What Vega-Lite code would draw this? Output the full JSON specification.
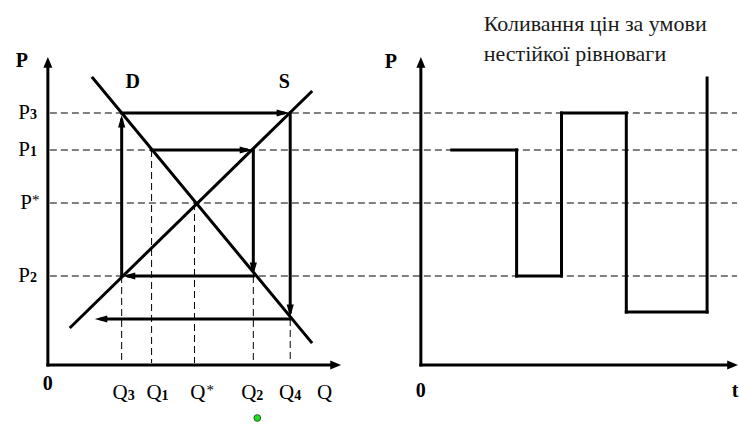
{
  "$schema": "https://vega.github.io/schema/vega-lite/v6.json",
  "width": 739,
  "height": 424,
  "autosize": {"type": "fit", "contains": "padding"},
  "padding": 0,
  "background": "white",
  "config": {"view": {"stroke": null}},
  "datasets": {
    "dashed": [
      {"x": 2, "y": 252, "x2": 691, "y2": 252},
      {"x": 2, "y": 215, "x2": 691, "y2": 215},
      {"x": 2, "y": 162, "x2": 691, "y2": 162},
      {"x": 2, "y": 89, "x2": 691, "y2": 89},
      {"x": 74, "y": 89, "x2": 74, "y2": 2},
      {"x": 104, "y": 215, "x2": 104, "y2": 2},
      {"x": 147, "y": 162, "x2": 147, "y2": 2},
      {"x": 206, "y": 89, "x2": 206, "y2": 2},
      {"x": 243, "y": 46, "x2": 243, "y2": 2}
    ],
    "solid": [
      {"x": 0, "y": 0, "x2": 0, "y2": 300},
      {"x": 0, "y": 0, "x2": 286, "y2": 0},
      {"x": 45, "y": 287, "x2": 264, "y2": 23},
      {"x": 23, "y": 38, "x2": 264, "y2": 273},
      {"x": 74, "y": 89, "x2": 74, "y2": 245},
      {"x": 74, "y": 252, "x2": 236, "y2": 252},
      {"x": 243, "y": 252, "x2": 243, "y2": 53},
      {"x": 243, "y": 46, "x2": 54, "y2": 46},
      {"x": 104, "y": 215, "x2": 199, "y2": 215},
      {"x": 206, "y": 215, "x2": 206, "y2": 96},
      {"x": 206, "y": 89, "x2": 81, "y2": 89},
      {"x": 374, "y": 0, "x2": 374, "y2": 300},
      {"x": 374, "y": 0, "x2": 684, "y2": 0},
      {"x": 405, "y": 215, "x2": 470, "y2": 215},
      {"x": 470, "y": 215, "x2": 470, "y2": 89},
      {"x": 470, "y": 89, "x2": 515, "y2": 89},
      {"x": 515, "y": 89, "x2": 515, "y2": 252},
      {"x": 515, "y": 252, "x2": 580, "y2": 252},
      {"x": 580, "y": 252, "x2": 580, "y2": 53},
      {"x": 580, "y": 53, "x2": 661, "y2": 53},
      {"x": 661, "y": 53, "x2": 661, "y2": 287}
    ],
    "heads": [
      {"x": 74, "y": 250, "dir": "up"},
      {"x": 242, "y": 252, "dir": "right"},
      {"x": 243, "y": 48, "dir": "down"},
      {"x": 47, "y": 46, "dir": "left"},
      {"x": 205, "y": 215, "dir": "right"},
      {"x": 206, "y": 90, "dir": "down"},
      {"x": 75, "y": 89, "dir": "left"},
      {"x": 0, "y": 308, "dir": "axis-up"},
      {"x": 294, "y": 0, "dir": "axis-right"},
      {"x": 374, "y": 308, "dir": "axis-up"},
      {"x": 692, "y": 0, "dir": "axis-right"}
    ],
    "boldText": [
      {"x": -26, "y": 304, "label": "P"},
      {"x": 85, "y": 283, "label": "D"},
      {"x": 237, "y": 283, "label": "S"},
      {"x": 0, "y": -19, "label": "0"},
      {"x": 344, "y": 303, "label": "P"},
      {"x": 374, "y": -26, "label": "0"},
      {"x": 689, "y": -26, "label": "t"}
    ],
    "pText": [
      {"x": -18, "y": 252, "main": "P", "sub": "3"},
      {"x": -18, "y": 215, "main": "P", "sub": "1"},
      {"x": -16, "y": 162, "main": "P", "sub": ""},
      {"x": -18, "y": 89, "main": "P", "sub": "2"}
    ],
    "pStar": [
      {"x": -16, "y": 165, "label": "*"}
    ],
    "qText": [
      {"x": 80, "y": -28, "main": "Q", "sub": "3"},
      {"x": 114, "y": -28, "main": "Q", "sub": "1"},
      {"x": 209, "y": -28, "main": "Q", "sub": "2"},
      {"x": 247, "y": -28, "main": "Q", "sub": "4"},
      {"x": 285, "y": -28, "main": "Q", "sub": ""},
      {"x": 158, "y": -28, "main": "Q", "sub": ""}
    ],
    "qStar": [
      {"x": 159, "y": -25, "label": "*"}
    ],
    "title": [
      {"x": 437, "y": 341, "label": "Коливання цін за умови"},
      {"x": 437, "y": 311, "label": "нестійкої рівноваги"}
    ],
    "dot": [
      {"x": 210, "y": -53}
    ]
  },
  "encoding": {
    "x": {"field": "x", "type": "quantitative", "scale": {"domain": [-48, 691], "nice": false, "zero": false}, "axis": null},
    "y": {"field": "y", "type": "quantitative", "scale": {"domain": [-59, 365], "nice": false, "zero": false}, "axis": null}
  },
  "layer": [
    {
      "data": {"name": "dashed"},
      "mark": {"type": "rule", "color": "black", "strokeWidth": 1, "strokeDash": [7, 4]},
      "encoding": {"x2": {"field": "x2"}, "y2": {"field": "y2"}}
    },
    {
      "data": {"name": "solid"},
      "mark": {"type": "rule", "color": "black", "strokeWidth": 3, "strokeCap": "square"},
      "encoding": {"x2": {"field": "x2"}, "y2": {"field": "y2"}}
    },
    {
      "data": {"name": "heads"},
      "mark": {"type": "point", "filled": true, "color": "black", "opacity": 1, "size": 144},
      "encoding": {
        "shape": {
          "field": "dir", "type": "nominal", "legend": null,
          "scale": {
            "domain": ["up", "down", "left", "right", "axis-up", "axis-right"],
            "range": [
              "M0,0L-0.6,2.1L0.6,2.1Z",
              "M0,0L-0.6,-2.1L0.6,-2.1Z",
              "M0,0L2.1,-0.6L2.1,0.6Z",
              "M0,0L-2.1,-0.6L-2.1,0.6Z",
              "M0,0L-0.75,1.8L0.75,1.8Z",
              "M0,0L-1.8,-0.75L-1.8,0.75Z"
            ]
          }
        }
      }
    },
    {
      "data": {"name": "boldText"},
      "mark": {"type": "text", "font": "Liberation Serif, DejaVu Serif, serif", "fontSize": 20, "fontWeight": "bold", "align": "center", "baseline": "middle", "color": "black"},
      "encoding": {"text": {"field": "label"}}
    },
    {
      "data": {"name": "pText"},
      "mark": {"type": "text", "font": "Liberation Serif, DejaVu Serif, serif", "fontSize": 21, "align": "right", "baseline": "middle", "color": "black"},
      "encoding": {"text": {"field": "main"}}
    },
    {
      "data": {"name": "pText"},
      "mark": {"type": "text", "font": "Liberation Serif, DejaVu Serif, serif", "fontSize": 14, "fontWeight": "bold", "align": "left", "baseline": "middle", "dy": 2, "color": "black"},
      "encoding": {"text": {"field": "sub"}}
    },
    {
      "data": {"name": "pStar"},
      "mark": {"type": "text", "font": "Liberation Serif, DejaVu Serif, serif", "fontSize": 15, "align": "left", "baseline": "middle", "color": "black"},
      "encoding": {"text": {"field": "label"}}
    },
    {
      "data": {"name": "qText"},
      "mark": {"type": "text", "font": "Liberation Serif, DejaVu Serif, serif", "fontSize": 21, "align": "right", "baseline": "middle", "color": "black"},
      "encoding": {"text": {"field": "main"}}
    },
    {
      "data": {"name": "qText"},
      "mark": {"type": "text", "font": "Liberation Serif, DejaVu Serif, serif", "fontSize": 14, "fontWeight": "bold", "align": "left", "baseline": "middle", "dy": 3, "color": "black"},
      "encoding": {"text": {"field": "sub"}}
    },
    {
      "data": {"name": "qStar"},
      "mark": {"type": "text", "font": "Liberation Serif, DejaVu Serif, serif", "fontSize": 15, "align": "left", "baseline": "middle", "color": "black"},
      "encoding": {"text": {"field": "label"}}
    },
    {
      "data": {"name": "title"},
      "mark": {"type": "text", "font": "Liberation Serif, DejaVu Serif, serif", "fontSize": 22, "align": "left", "baseline": "middle", "color": "#1a1a1a"},
      "encoding": {"text": {"field": "label"}}
    },
    {
      "data": {"name": "dot"},
      "mark": {"type": "point", "filled": true, "shape": "circle", "size": 45, "color": "#1ee01e", "stroke": "#2d5a2d", "strokeWidth": 1, "opacity": 1}
    }
  ]
}
